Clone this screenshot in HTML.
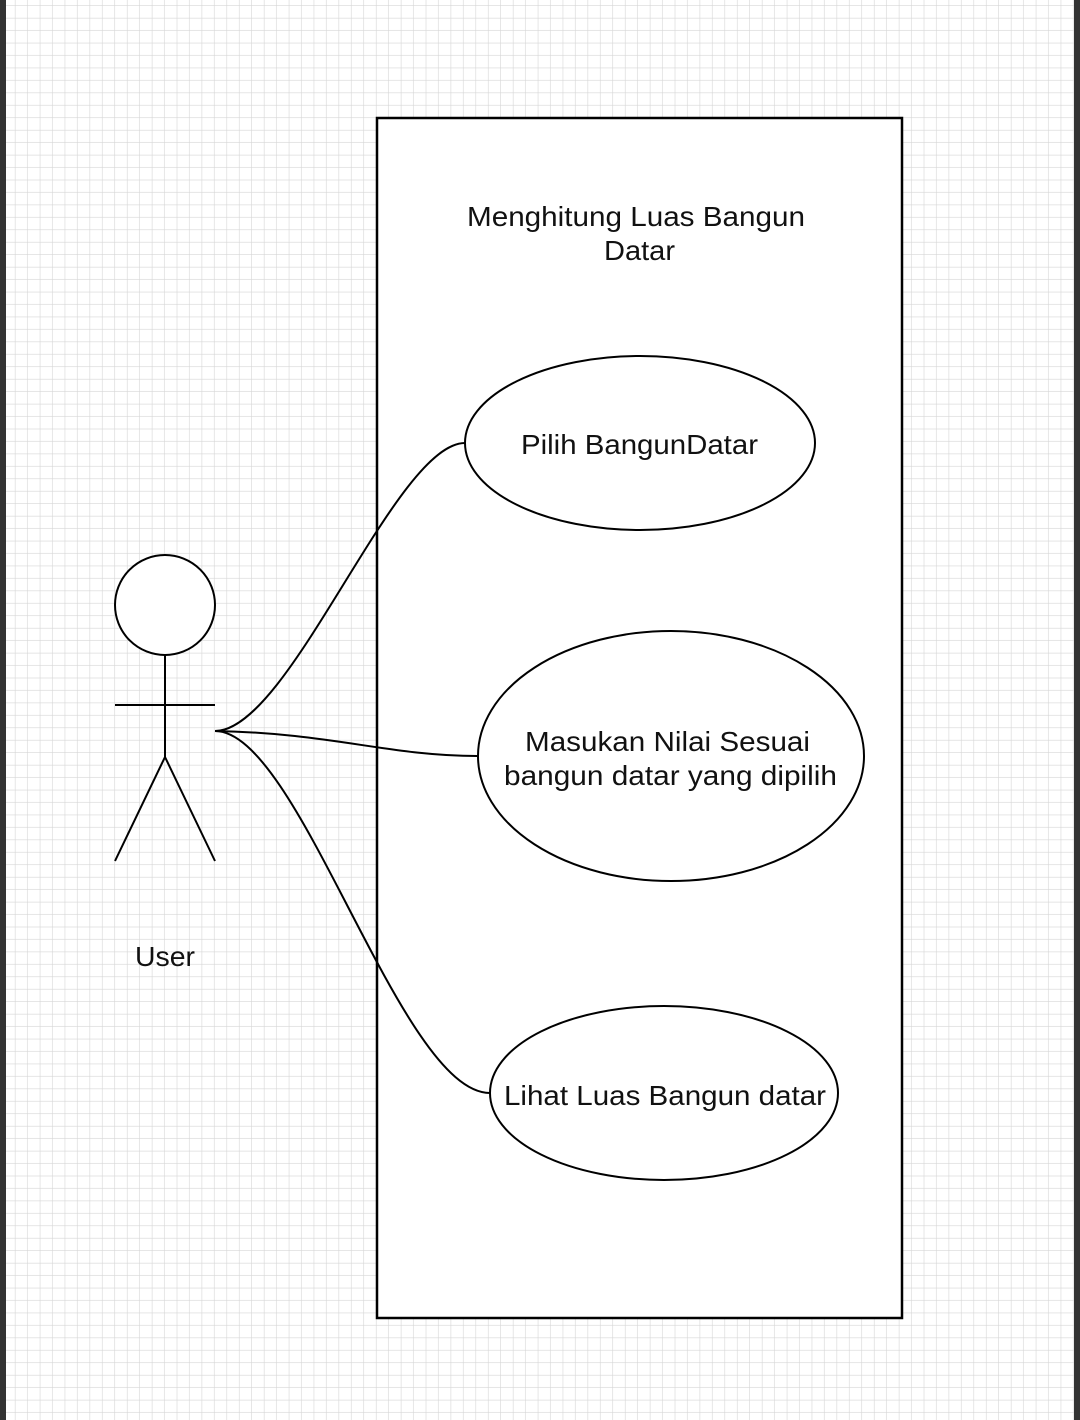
<!DOCTYPE html>
<html><head><meta charset="utf-8"><style>
html,body{margin:0;padding:0;background:#fff}
svg{display:block}
text{font-family:"Liberation Sans",sans-serif;fill:#111}
</style></head><body>
<svg width="1080" height="1420" viewBox="0 0 1080 1420" xmlns="http://www.w3.org/2000/svg">
<defs>
<pattern id="g" x="3" y="6" width="12.45" height="12.45" patternUnits="userSpaceOnUse">
<path d="M12.45 0V12.45M0 12.45H12.45" stroke="#d6d6d6" stroke-width="1.2" fill="none"/>
</pattern>
</defs>
<rect width="1080" height="1420" fill="#fff"/>
<rect width="1080" height="1420" fill="url(#g)"/>
<rect x="0" y="0" width="6" height="1420" fill="#333"/>
<rect x="1074" y="0" width="6" height="1420" fill="#333"/>
<rect x="377" y="118" width="525" height="1200" fill="#fff" stroke="#000" stroke-width="2.5"/>
<text x="467" y="226" font-size="28" textLength="338" lengthAdjust="spacingAndGlyphs">Menghitung Luas Bangun</text>
<text x="604" y="260" font-size="28" textLength="71" lengthAdjust="spacingAndGlyphs">Datar</text>
<g fill="none" stroke="#000" stroke-width="2">
<path d="M215 731 C290 731 395 443 465 443"/>
<path d="M215 731 C330 733 390 756 477 756"/>
<path d="M215 731 C300 731 400 1093 490 1093"/>
</g>
<g fill="#fff" stroke="#000" stroke-width="2">
<ellipse cx="640" cy="443" rx="175" ry="87"/>
<ellipse cx="671" cy="756" rx="193" ry="125"/>
<ellipse cx="664" cy="1093" rx="174" ry="87"/>
</g>
<text x="521" y="454" font-size="28" textLength="237" lengthAdjust="spacingAndGlyphs">Pilih BangunDatar</text>
<text x="525" y="751" font-size="28" textLength="285" lengthAdjust="spacingAndGlyphs">Masukan Nilai Sesuai</text>
<text x="504" y="785" font-size="28" textLength="333" lengthAdjust="spacingAndGlyphs">bangun datar yang dipilih</text>
<text x="504" y="1105" font-size="28" textLength="322" lengthAdjust="spacingAndGlyphs">Lihat Luas Bangun datar</text>
<g fill="none" stroke="#000" stroke-width="2">
<circle cx="165" cy="605" r="50" fill="#fff"/>
<path d="M165 655V757M115 705H215M165 757L115 861M165 757L215 861"/>
</g>
<text x="135" y="966" font-size="28" textLength="60" lengthAdjust="spacingAndGlyphs">User</text>
</svg>
</body></html>
